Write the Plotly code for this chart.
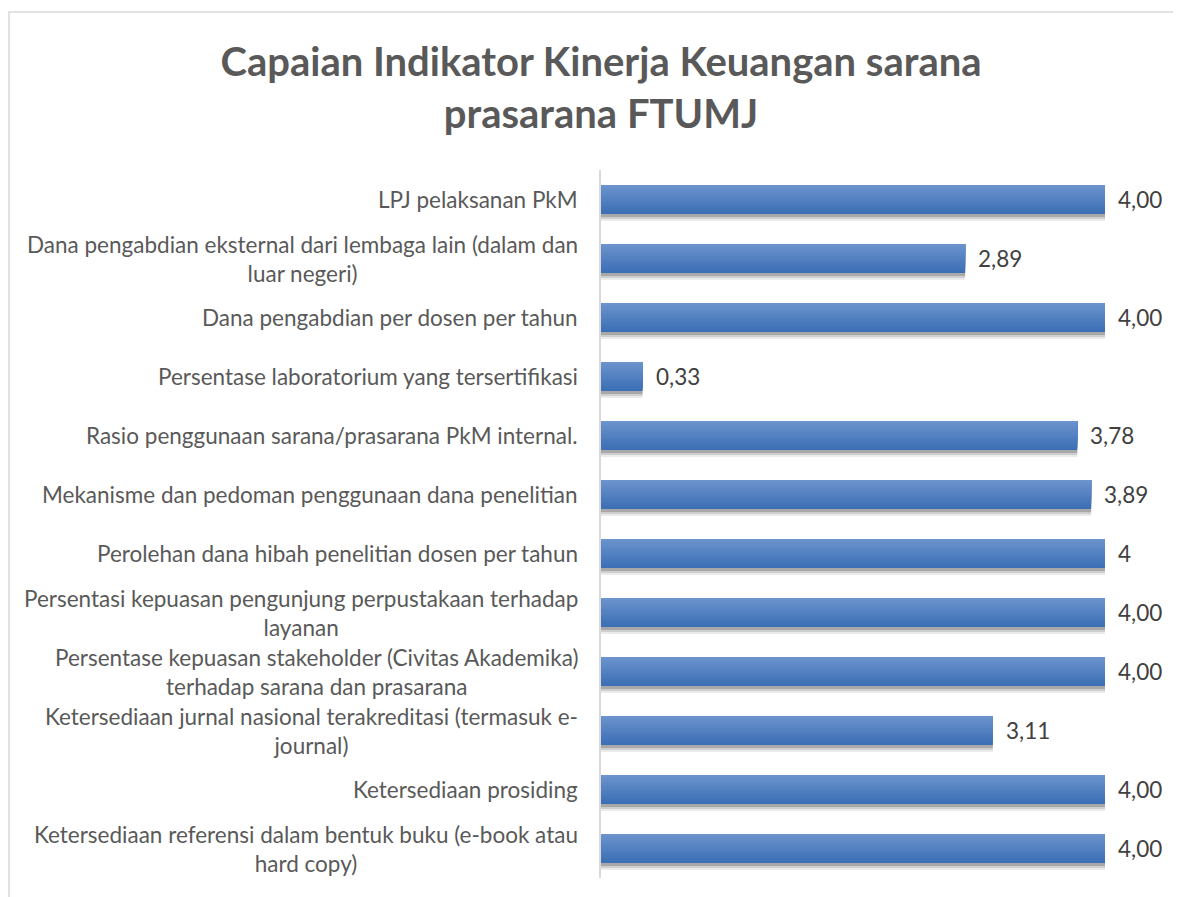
import plotly.graph_objects as go

# ---- data ----
categories = [
    "LPJ pelaksanan PkM",
    "Dana pengabdian eksternal dari lembaga lain (dalam dan<br>luar negeri)",
    "Dana pengabdian per dosen per tahun",
    "Persentase laboratorium yang tersertifikasi",
    "Rasio penggunaan sarana/prasarana PkM internal.",
    "Mekanisme dan pedoman penggunaan dana penelitian",
    "Perolehan dana hibah penelitian dosen per tahun",
    "Persentasi kepuasan pengunjung perpustakaan terhadap<br>layanan",
    "Persentase kepuasan stakeholder (Civitas Akademika)<br>terhadap sarana dan prasarana",
    "Ketersediaan jurnal nasional terakreditasi (termasuk e-<br>journal)",
    "Ketersediaan prosiding",
    "Ketersediaan referensi dalam bentuk buku (e-book atau<br>hard copy)",
]
values = [4.00, 2.89, 4.00, 0.33, 3.78, 3.89, 4, 4.00, 4.00, 3.11, 4.00, 4.00]
value_labels = ["4,00", "2,89", "4,00", "0,33", "3,78", "3,89", "4",
                "4,00", "4,00", "3,11", "4,00", "4,00"]
title_text = "Capaian Indikator Kinerja Keuangan sarana<br>prasarana FTUMJ"

# ---- style ----
# page body has an 8px margin, so the figure is drawn 8px in from the window edge
W, H = 1173, 889
ML, MR, MT, MB = 593, 76, 162, 19
plot_w = W - ML - MR
plot_h = H - MT - MB
band_px = plot_h / len(categories)
BW = 0.49                      # bar thickness in category units
FONT = "Lato, 'Open Sans', sans-serif"
LABEL_COLOR = "#595959"
VALUE_COLOR = "#404040"

pos = list(range(len(categories)))

fig = go.Figure()

# soft shadow below each bar
for dy, alpha in [(7, 0.08), (5, 0.12), (3, 0.18)]:
    fig.add_trace(go.Bar(
        y=pos, x=values, orientation="h",
        width=BW, offset=-BW / 2 + dy / band_px,
        marker=dict(color=f"rgba(0,0,0,{alpha})", line=dict(width=0)),
        hoverinfo="skip", showlegend=False))

# vertical gradient: base (dark bottom) then lighter layers from the top
top_rgb = (0x6b, 0x93, 0xcc)
bot_rgb = (0x3c, 0x6f, 0xb6)
N = 14
for k in range(N):
    frac = 1 - k / N
    t = k / (N - 1)
    c = tuple(round(bot_rgb[i] + (top_rgb[i] - bot_rgb[i]) * t) for i in range(3))
    fig.add_trace(go.Bar(
        y=pos, x=values, orientation="h",
        width=BW * frac, offset=-BW / 2,
        marker=dict(color="rgb(%d,%d,%d)" % c, line=dict(width=0)),
        hoverinfo="skip", showlegend=False))

annotations = []
# category labels (right-aligned block, centered lines)
for p, cat in zip(pos, categories):
    annotations.append(dict(
        x=-21 / plot_w, xref="paper", y=p, yref="y",
        text=cat, showarrow=False, xanchor="right", yanchor="middle",
        align="center", font=dict(family=FONT, size=22.5, color=LABEL_COLOR)))
# value labels
for p, v, lab in zip(pos, values, value_labels):
    annotations.append(dict(
        x=v, xref="x", y=p, yref="y", text=lab, showarrow=False,
        xanchor="left", yanchor="middle", xshift=11,
        font=dict(family=FONT, size=22.5, color=VALUE_COLOR)))

fig.update_layout(
    width=W, height=H, autosize=False,
    margin=dict(l=ML, r=MR, t=MT, b=MB),
    paper_bgcolor="white", plot_bgcolor="white",
    barmode="overlay",
    title=dict(text=title_text, x=593 / W, xanchor="center", xref="container",
               y=1 - 68 / H, yanchor="middle", yref="container",
               font=dict(family=FONT, size=40, color="#595959", weight="bold")),
    xaxis=dict(range=[0, 4], visible=False, showgrid=False, zeroline=False),
    yaxis=dict(range=[len(categories) - 0.5, -0.5], showticklabels=False,
               showgrid=False, zeroline=False, ticks="",
               showline=True, linecolor="#d9d9d9", linewidth=2),
    annotations=annotations,
    shapes=[dict(type="rect", xref="paper", yref="paper",
                 x0=-(ML - 1) / plot_w, x1=(W + 40 - ML) / plot_w,
                 y0=-(MB + 40) / plot_h, y1=1 + (MT - 4) / plot_h,
                 line=dict(color="#d9d9d9", width=1.5), fillcolor="rgba(0,0,0,0)",
                 layer="below")],
    showlegend=False,
)

fig.write_html("out.html")
